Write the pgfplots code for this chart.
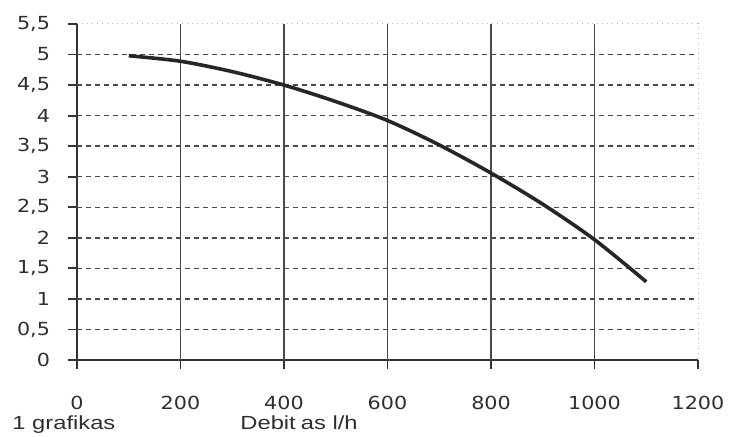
\documentclass[border=0pt]{standalone}
\usepackage{pgfplots}
\pgfplotsset{compat=1.18}
\usepackage{fontspec}
\setmainfont{Liberation Sans}
\newfontfamily\tickfont[FakeStretch=1.15]{DejaVu Sans}
\newfontfamily\labfont[FakeStretch=1.25]{Liberation Sans}
\definecolor{txt}{HTML}{2E2E2E}
\definecolor{gridc}{HTML}{4A4A4A}
\begin{document}
\begin{tikzpicture}[x=1pt,y=1pt]
\useasboundingbox (0,0) rectangle (369.5,218.5);
\begin{axis}[
  at={(38.5pt,38.5pt)}, anchor=south west,
  scale only axis, width=310.5pt, height=168pt,
  xmin=0, xmax=1200, ymin=0, ymax=5.5,
  axis x line=bottom, axis y line=left,
  axis line style={-, black!80, line width=0.9pt},
  xtick={0,200,400,600,800,1000,1200},
  ytick={0,0.5,1,1.5,2,2.5,3,3.5,4,4.5,5,5.5},
  tick align=outside, major tick length=4.5pt,
  tick style={black!80, line width=0.9pt},
  /pgf/number format/use comma,
  /pgf/number format/1000 sep={},
  /pgf/number format/assume math mode=true,
  yticklabel style={font=\tickfont\fontsize{9}{10}\selectfont, text=txt, xshift=-5.5pt},
  xticklabel style={font=\tickfont\fontsize{9}{10}\selectfont, text=txt, yshift=-10pt},
  clip=false,
]
\foreach \yy in {0.5,1,1.5,2,2.5,3,3.5,4,4.5,5} {
  \edef\tmp{\noexpand\draw[gridc, line width=0.7pt, dash pattern=on 2.5pt off 2pt] (axis cs:0,\yy) -- (axis cs:1200,\yy);}
  \tmp
}
\draw[black!30, line width=0.5pt, dotted] (axis cs:0,5.5) -- (axis cs:1200,5.5) -- (axis cs:1200,0);
\foreach \xx in {200,400,600,800,1000} {
  \edef\tmp{\noexpand\draw[gridc, line width=0.7pt] (axis cs:\xx,0) -- (axis cs:\xx,5.5);}
  \tmp
}
\addplot[smooth, line width=1.8pt, color=black!85] coordinates {
 (100,4.98) (200,4.89) (300,4.72) (400,4.50) (500,4.23) (600,3.92)
 (700,3.52) (800,3.06) (900,2.55) (1000,1.97) (1100,1.28)
};
\end{axis}
\node[anchor=base west, font=\labfont\fontsize{9.5}{11}\selectfont, text=txt, inner sep=0pt] at (6,3.5) {1 grafikas};
\node[anchor=base west, font=\labfont\fontsize{9.5}{11}\selectfont, text=txt, inner sep=0pt] at (120,3.5) {Debit\kern2.5pt as l/h};
\end{tikzpicture}
\end{document}
